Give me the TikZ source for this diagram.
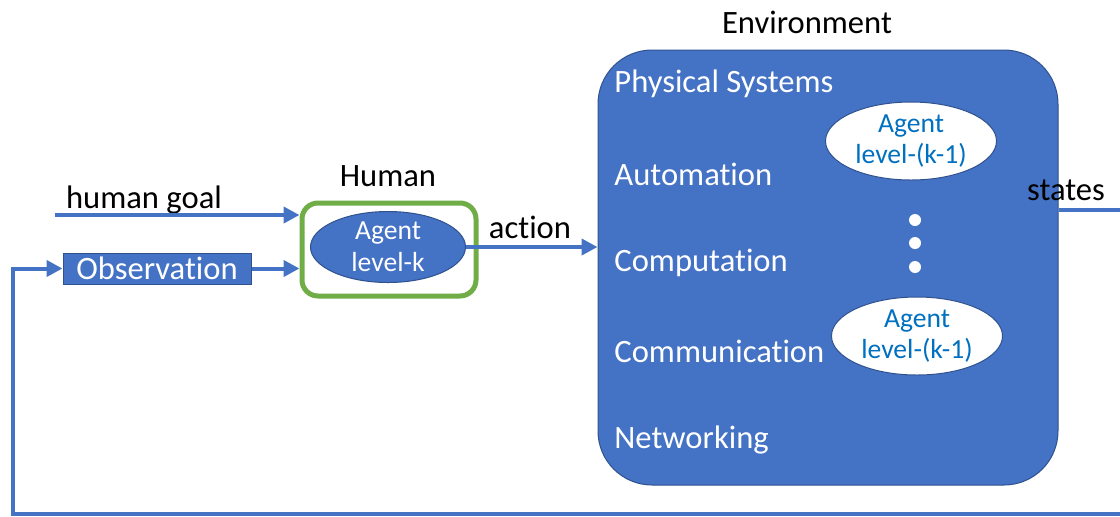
\documentclass[tikz,border=0pt]{standalone}
\usepackage{fontspec}
\setmainfont{Carlito}[Ligatures=NoCommon]
\usetikzlibrary{arrows.meta,positioning,shapes}
\definecolor{accblue}{HTML}{4472C4}
\definecolor{darkblue}{HTML}{2F528F}
\definecolor{accgreen}{HTML}{70AD47}
\definecolor{txtblue}{HTML}{0070C0}

\begin{document}
\begin{tikzpicture}[x=0.5pt, y=-0.5pt, >={Triangle[length=8pt,width=8pt]},
  big/.style = {font=\fontsize{16.3}{19}\selectfont, inner sep=0pt},
  envtext/.style = {big, text=white, anchor=west},
  agentw/.style = {ellipse, draw=darkblue, line width=0.5pt, fill=white, text=txtblue, inner sep=0pt,
                   minimum width=85.5pt, minimum height=39pt, align=center, font=\fontsize{13.8}{15.8}\selectfont},
  agentb/.style = {agentw, fill=accblue, text=white, minimum width=77.5pt, minimum height=35.5pt},
  flow/.style = {draw=accblue, line width=2pt}]
  \clip (0,0) rectangle (1120,516);

  % Environment block
  \node[draw=darkblue, line width=0.5pt, fill=accblue, rounded corners=27pt,
        minimum width=230pt, minimum height=217.5pt] (env) at (828,267.5) {};
  \node[big] (envlbl) at (807,22) {Environment};
  \node[envtext] (phys) at (614,84) {Physical Systems};
  \node[envtext] (auto) at (614,174) {Automation};
  \node[envtext] (comp) at (614,263) {Computation};
  \node[envtext] (comm) at (614,351) {Communication};
  \node[envtext] (netw) at (614,440) {Networking};

  % Other agents
  \node[agentw] (ag1) at (911,141) {Agent\\level-(k-1)};
  \node[agentw] (ag2) at (917,336) {Agent\\level-(k-1)};
  \foreach \i/\y in {1/220,2/243,3/267}
    \node[circle, fill=white, inner sep=0pt, minimum size=6pt] (dot\i) at (915,\y) {};

  % Human
  \node[draw=accgreen, line width=2.5pt, rounded corners=8pt,
        minimum width=87pt, minimum height=46.5pt] (human) at (389,249.5) {};
  \node[big] (humanlbl) at (388,176) {Human};
  \node[agentb] (agk) at (388,247) {Agent\\level-k};

  % Inputs
  \node[draw=darkblue, line width=0.5pt, fill=accblue, text=white, big,
        minimum width=94pt, minimum height=15.5pt] (obs) at (157,268.5) {Observation};
  \coordinate (goalstart) at (55,215);
  \node[big] (goallbl) at (144,200) {human goal};
  \node[big] (actlbl) at (530,227) {action};
  \node[big] (statelbl) at (1066,190) {states};

  % Feedback corners
  \coordinate (stateend) at (1140,210);
  \coordinate (fbcorner) at (13,514);

  \draw[flow, ->] (goalstart) -- (goalstart -| human.west);
  \draw[flow, ->] (obs) -- (obs -| human.west);
  \draw[flow, ->] (agk.east) -- (agk.east -| env.west);
  \draw[flow, ->] (env.east |- stateend) -- (stateend) -- (stateend |- fbcorner)
        -- (fbcorner) -- (fbcorner |- obs) -- (obs.west);

\end{tikzpicture}
\end{document}
